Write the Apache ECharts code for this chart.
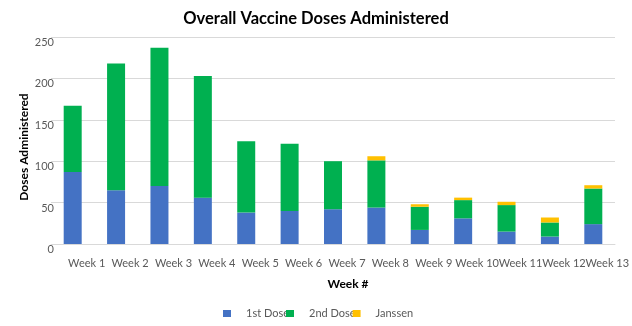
<!DOCTYPE html>
<html>
<head>
<meta charset="utf-8">
<script src="https://cdn.jsdelivr.net/npm/echarts@6/dist/echarts.min.js"></script>
<style>
  html, body { margin: 0; padding: 0; background: #fff; }
  #chart { width: 632px; height: 326px; }
</style>
</head>
<body>
<div id="chart"></div>
<script>
// Weekly vaccine doses, stacked by dose type
const weeks = ['Week 1', 'Week 2', 'Week 3', 'Week 4', 'Week 5', 'Week 6', 'Week 7',
               'Week 8', 'Week 9', 'Week 10', 'Week 11', 'Week 12', 'Week 13'];
const firstDose  = [87, 65, 70, 56, 38, 40, 42, 44, 17, 31, 15, 9, 24];
const secondDose = [80, 153, 167, 147, 86, 81, 58, 57, 28, 22, 32, 17, 43];
const janssen    = [0, 0, 0, 0, 0, 0, 0, 5, 3, 3, 4, 6, 4];
const yTicks = [0, 50, 100, 150, 200, 250];

const FONT = 'Lato, "Open Sans", sans-serif';
const GREY = '#595959';

const chart = echarts.init(document.getElementById('chart'), null, { renderer: 'canvas' });

const makeSeries = (name, data, color) => ({
  name, type: 'bar', stack: 'doses', data,
  barWidth: 18,
  itemStyle: { color },
  emphasis: { disabled: true }
});

chart.setOption({
  animation: false,
  backgroundColor: '#ffffff',
  textStyle: { fontFamily: FONT },
  title: {
    text: 'Overall Vaccine Doses Administered',
    left: 'center', top: 5,
    textStyle: { fontFamily: FONT, fontWeight: 'bold', fontSize: 16.5, color: '#000' }
  },
  // vertical y-axis title
  graphic: [{
    type: 'text',
    x: 24, y: 147,
    rotation: Math.PI / 2,
    style: {
      text: 'Doses Administered',
      font: 'bold 12px ' + FONT,
      fill: '#000',
      align: 'center',
      verticalAlign: 'middle'
    }
  }],
  legend: {
    top: 303, left: 218,
    icon: 'rect', itemWidth: 8, itemHeight: 7, itemGap: -3,
    textStyle: { fontFamily: FONT, fontSize: 11, color: GREY, padding: [0, 0, 0, 10] },
    data: ['1st Dose', '2nd Dose', 'Janssen']
  },
  grid: { left: 51, right: 15, top: 37, bottom: 82 },
  xAxis: {
    type: 'category', data: weeks,
    axisLine: { lineStyle: { color: '#d9d9d9' } },
    axisTick: { show: false },
    axisLabel: { color: GREY, fontSize: 11, fontFamily: FONT, margin: 14, interval: 0, padding: [0, 0, 0, 28] },
    name: 'Week #', nameLocation: 'middle', nameGap: 34,
    nameTextStyle: { fontWeight: 'bold', fontSize: 12, color: '#000', fontFamily: FONT, padding: [0, 0, 0, 30] }
  },
  yAxis: {
    type: 'value', min: yTicks[0], max: yTicks[yTicks.length - 1], interval: 50,
    axisLine: { show: false },
    axisTick: { show: false },
    splitLine: { lineStyle: { color: '#d9d9d9', width: 1 } },
    axisLabel: { color: GREY, fontSize: 11, fontFamily: FONT, margin: -3, verticalAlign: 'top' }
  },
  series: [
    makeSeries('1st Dose', firstDose, '#4472C4'),
    makeSeries('2nd Dose', secondDose, '#00B050'),
    makeSeries('Janssen', janssen, '#FFC000')
  ]
});
</script>
</body>
</html>
